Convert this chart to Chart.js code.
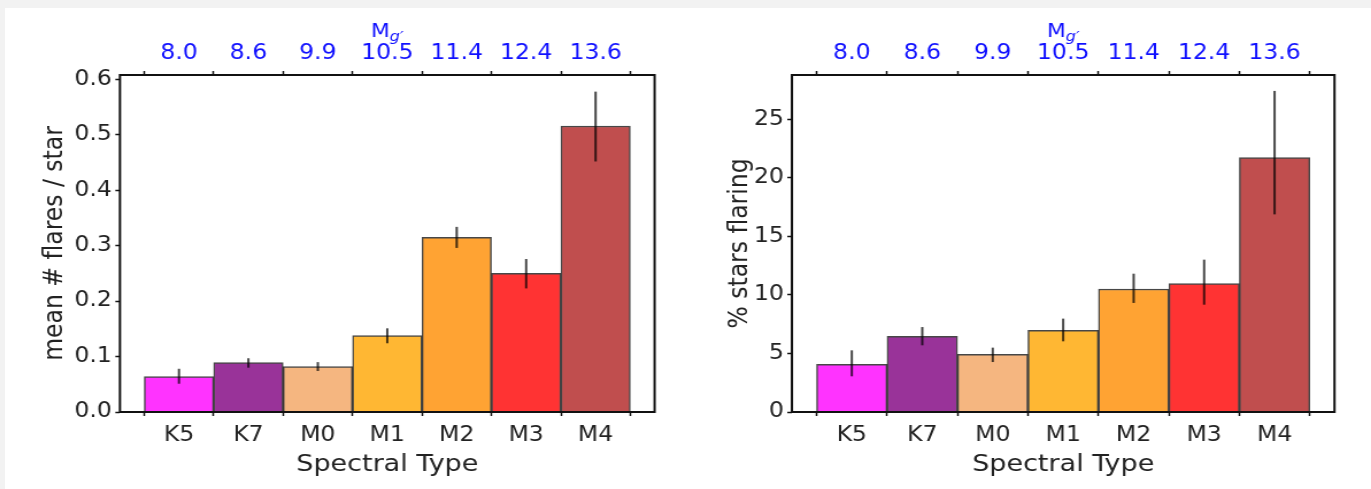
<!DOCTYPE html>
<html>
<head>
<meta charset="utf-8">
<script src="https://cdn.jsdelivr.net/npm/chart.js@4/dist/chart.umd.min.js"></script>
<style>
  html, body { margin: 0; padding: 0; width: 1371px; height: 489px; overflow: hidden; background: #f2f2f2; }
  #sheet { position: absolute; left: 5px; top: 8px; right: 0; bottom: 0; background: #ffffff; }
  canvas { position: absolute; top: 0; transform-origin: 0 0; }
</style>
</head>
<body>
<div id="sheet"></div>
<canvas id="flareRate"></canvas>
<canvas id="flareFrac"></canvas>
<script>
// Spectral types and the matching absolute g' magnitudes (top axis)
const spectralTypes = ['K5', 'K7', 'M0', 'M1', 'M2', 'M3', 'M4'];
const absMagG = ['8.0', '8.6', '9.9', '10.5', '11.4', '12.4', '13.6'];

// Mean number of flares per star, with lower / upper uncertainties
const meanFlares   = [0.064, 0.089, 0.082, 0.138, 0.315, 0.250, 0.516];
const meanErrLow   = [0.013, 0.009, 0.008, 0.014, 0.019, 0.027, 0.064];
const meanErrHigh  = [0.014, 0.008, 0.008, 0.013, 0.019, 0.026, 0.062];

// Percentage of stars showing at least one flare, with lower / upper uncertainties
const pctFlaring   = [4.07, 6.47, 4.93, 6.98, 10.51, 10.97, 21.74];
const pctErrLow    = [1.02, 0.77, 0.66, 0.94, 1.19, 1.80, 4.85];
const pctErrHigh   = [1.20, 0.79, 0.57, 1.00, 1.31, 2.05, 5.70];

// Tick values of the two y axes
const meanTicks = [0, 0.1, 0.2, 0.3, 0.4, 0.5, 0.6];
const pctTicks  = [0, 5, 10, 15, 20, 25];

// One colour per spectral type
const typeColors = ['#ff33ff', '#993399', '#f5b680', '#ffb733', '#ffa333', '#ff3333', '#c04e4e'];

// The figure is drawn narrow and widened horizontally
const STRETCH = 1.15;
const FONT = "'DejaVu Sans', sans-serif";
const INK = '#222222';
const MAG_BLUE = '#1010ff';
const TICK_SIZE = 20.5;
const LABEL_SIZE = 23.5;

Chart.defaults.font.family = FONT;
Chart.defaults.color = INK;

// Vertical error bars and the black box around the axes
const errorBars = {
  id: 'errorBars',
  afterDatasetsDraw(chart, args, opts) {
    const { ctx, chartArea: a } = chart;
    const y = chart.scales.y;
    const ds = chart.data.datasets[0];
    const meta = chart.getDatasetMeta(0);
    ctx.save();
    ctx.strokeStyle = opts.color;
    ctx.lineWidth = opts.width;
    meta.data.forEach((bar, i) => {
      const v = ds.data[i].y;
      ctx.beginPath();
      ctx.moveTo(bar.x, y.getPixelForValue(v + opts.high[i]));
      ctx.lineTo(bar.x, y.getPixelForValue(v - opts.low[i]));
      ctx.stroke();
    });
    ctx.strokeStyle = '#111111';
    ctx.lineWidth = 2;
    ctx.strokeRect(a.left, a.top, a.right - a.left, a.bottom - a.top);
    ctx.restore();
  }
};

// Top axis title: M with a subscript g'
const magTitle = {
  id: 'magTitle',
  afterDraw(chart, args, opts) {
    const { ctx, chartArea: a } = chart;
    const cx = (a.left + a.right) / 2;
    ctx.save();
    ctx.fillStyle = opts.color;
    ctx.textBaseline = 'alphabetic';
    ctx.textAlign = 'left';
    const mainFont = `${opts.size}px ${FONT}`;
    const subFont = `italic ${opts.subSize}px ${FONT}`;
    ctx.font = mainFont;
    const wMain = ctx.measureText(opts.main).width;
    ctx.font = subFont;
    const wSub = ctx.measureText(opts.sub).width;
    const x0 = cx - (wMain + wSub) / 2;
    ctx.font = mainFont;
    ctx.fillText(opts.main, x0, opts.baseline);
    ctx.font = subFont;
    ctx.fillText(opts.sub, x0 + wMain, opts.baseline + opts.drop);
    ctx.restore();
  }
};

function tickMarks() {
  return { drawOnChartArea: false, drawTicks: true, tickLength: 4, tickWidth: 1.5, tickColor: '#111111' };
}

function categoryTicks(scale) {
  scale.ticks = spectralTypes.map((_, i) => ({ value: i }));
}

// cfg holds page coordinates: canvas left/width, plot box left/right, y-title centre
function drawPanel(id, cfg) {
  const s = STRETCH;
  const canvas = document.getElementById(id);
  const w = Math.round(cfg.pageWidth / s);
  canvas.width = w;
  canvas.height = 489;
  canvas.style.left = cfg.pageLeft + 'px';
  canvas.style.transform = `scaleX(${cfg.pageWidth / w})`;

  const boxLeft = (cfg.boxLeft - cfg.pageLeft) / s;
  const boxRight = (cfg.boxRight - cfg.pageLeft) / s;
  const labelLine = LABEL_SIZE * 1.2;
  const yTitleCenter = (cfg.yTitleX - cfg.pageLeft) / s;

  const n = spectralTypes.length;
  const xMin = -0.85, xMax = n - 1 + 0.85;

  return new Chart(canvas, {
    type: 'bar',
    data: {
      datasets: [{
        data: cfg.values.map((v, i) => ({ x: i, y: v })),
        backgroundColor: typeColors,
        borderColor: 'rgba(0,0,0,0.72)',
        borderWidth: 1.5,
        barPercentage: 1,
        categoryPercentage: 1,
        xAxisID: 'x',
        yAxisID: 'y'
      }]
    },
    options: {
      responsive: false,
      animation: false,
      devicePixelRatio: 1,
      layout: { padding: { left: 0, top: 0, bottom: 0, right: w - boxRight } },
      plugins: {
        legend: { display: false },
        tooltip: { enabled: false },
        errorBars: { low: cfg.low, high: cfg.high, color: 'rgba(0,0,0,0.72)', width: 2 },
        magTitle: { main: 'M', sub: 'g\u2032', size: 19, subSize: 14, baseline: 37, drop: 4, color: MAG_BLUE }
      },
      scales: {
        x: {
          type: 'linear', position: 'bottom', min: xMin, max: xMax, offset: false,
          afterBuildTicks: categoryTicks,
          afterFit: sc => { sc.height = 489 - 412; },
          grid: tickMarks(),
          border: { display: false },
          ticks: {
            callback: (v, i) => spectralTypes[i],
            font: { size: TICK_SIZE, lineHeight: 1 }, color: INK, padding: 9.5,
            maxRotation: 0, autoSkip: false
          },
          title: {
            display: true, text: 'Spectral Type', color: INK,
            font: { size: LABEL_SIZE }, padding: { top: 0, bottom: (489 - 464.5) - labelLine / 2 }
          }
        },
        x2: {
          type: 'linear', position: 'top', min: xMin, max: xMax, offset: false,
          afterBuildTicks: categoryTicks,
          afterFit: sc => { sc.height = 75; },
          grid: tickMarks(),
          border: { display: false },
          ticks: {
            callback: (v, i) => absMagG[i],
            font: { size: TICK_SIZE, lineHeight: 1 }, color: MAG_BLUE, padding: 7,
            maxRotation: 0, autoSkip: false
          }
        },
        y: {
          type: 'linear', min: 0, max: cfg.yMax,
          afterBuildTicks: sc => { sc.ticks = cfg.ticks.map(v => ({ value: v })); },
          afterFit: sc => { sc.width = boxLeft; },
          grid: tickMarks(),
          border: { display: false },
          ticks: { callback: cfg.fmt, font: { size: TICK_SIZE }, color: INK, padding: 3 },
          title: {
            display: true, text: cfg.yTitle, color: INK,
            font: { size: LABEL_SIZE }, padding: { top: yTitleCenter - labelLine / 2, bottom: 0 }
          }
        }
      }
    },
    plugins: [errorBars, magTitle]
  });
}

drawPanel('flareRate', {
  pageLeft: 0, pageWidth: 685, boxLeft: 120, boxRight: 655, yTitleX: 55,
  values: meanFlares, low: meanErrLow, high: meanErrHigh,
  yMax: 0.608, ticks: meanTicks, fmt: v => v.toFixed(1),
  yTitle: 'mean # flares / star'
});

drawPanel('flareFrac', {
  pageLeft: 685, pageWidth: 686, boxLeft: 792, boxRight: 1335, yTitleX: 740,
  values: pctFlaring, low: pctErrLow, high: pctErrHigh,
  yMax: 28.8, ticks: pctTicks, fmt: v => String(v),
  yTitle: '% stars flaring'
});
</script>
</body>
</html>
